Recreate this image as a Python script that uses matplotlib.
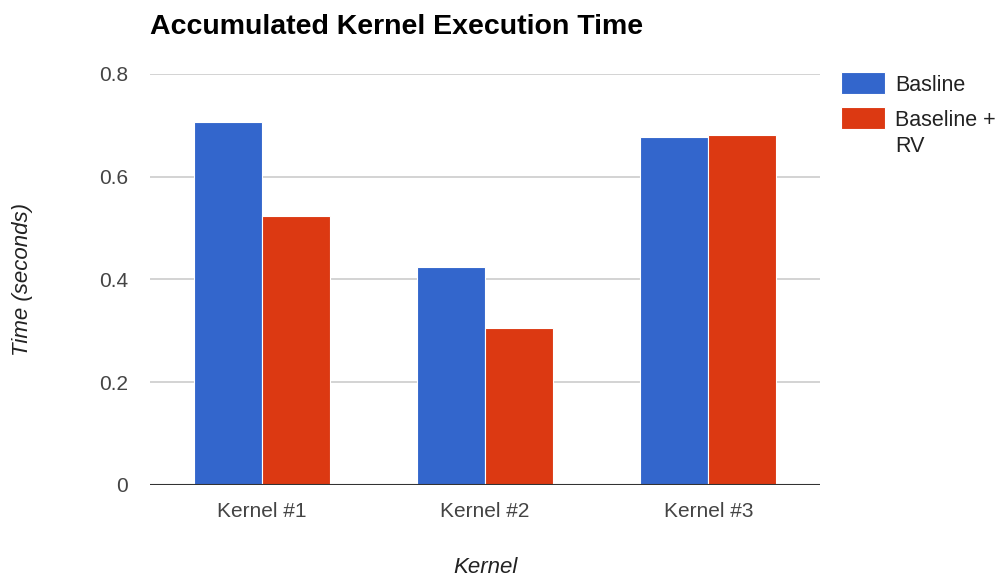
import matplotlib
matplotlib.use("Agg")
import matplotlib.pyplot as plt
from matplotlib.patches import Rectangle
import numpy as np

plt.rcParams['font.family'] = ['Liberation Sans', 'DejaVu Sans']

kernels = ["Kernel #1", "Kernel #2", "Kernel #3"]
baseline = [0.706, 0.425, 0.677]
baseline_rv = [0.524, 0.306, 0.681]
series_names = ["Basline", "Baseline +\nRV"]
colors = ["#3366CC", "#DC3912"]
yticks = [0, 0.2, 0.4, 0.6, 0.8]

fig = plt.figure(figsize=(10.02, 5.78), dpi=100)
ax = fig.add_axes([0.1497, 0.1609, 0.6687, 0.7111])

x = np.arange(len(kernels))
w = 0.305
ax.bar(x - w / 2, baseline, w, color=colors[0], edgecolor="white", linewidth=0.8, zorder=3)
ax.bar(x + w / 2, baseline_rv, w, color=colors[1], edgecolor="white", linewidth=0.8, zorder=3)

ax.set_xlim(-0.5, 2.5)
ax.set_ylim(0, 0.8)
ax.set_yticks(yticks)
ax.set_yticklabels(["0", "0.2", "0.4", "0.6", "0.8"])
ax.set_xticks(x)
ax.set_xticklabels(kernels)
ax.tick_params(axis="both", length=0, labelsize=15, labelcolor="#444444")
ax.tick_params(axis="y", pad=16)
ax.tick_params(axis="x", pad=12)
ax.grid(axis="y", color="#cccccc", linewidth=1.2, zorder=0)
for s in ax.spines.values():
    s.set_visible(False)
ax.axhline(0, color="#333333", linewidth=1.5, zorder=4)

ax.set_ylabel("Time (seconds)", fontsize=16, style="italic", color="#222222")
ax.yaxis.set_label_coords(-0.19, 0.5)
ax.yaxis.label.set_va("center")
ax.set_xlabel("Kernel", fontsize=16, style="italic", color="#222222")
ax.xaxis.set_label_coords(0.5, -0.2)
ax.xaxis.label.set_va("center")

fig.text(0.1497, 0.954, "Accumulated Kernel Execution Time", fontsize=20.5,
         fontweight="bold", va="center", ha="left", color="#000000")

# legend drawn by hand so the swatch lines up with the first line of text
box_tops = [72, 107]
for name, c, top in zip(series_names, colors, box_tops):
    fig.add_artist(Rectangle((841 / 1002, 1 - (top + 22) / 578), 44 / 1002, 22 / 578,
                             transform=fig.transFigure, facecolor=c,
                             edgecolor="white", linewidth=0.8))
    fig.text(895 / 1002, 1 - (top + 3) / 578, name, fontsize=15.5, color="#222222",
             va="top", ha="left", linespacing=1.3)

fig.savefig("out.png", dpi=100)
